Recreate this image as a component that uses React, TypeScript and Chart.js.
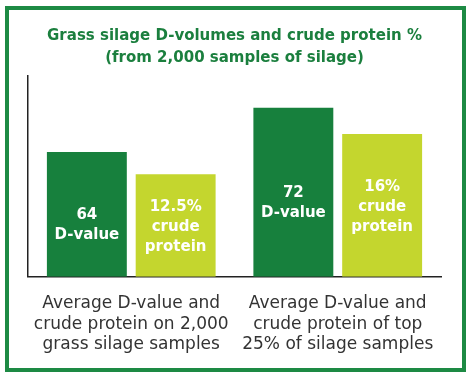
import React, { useEffect, useRef } from "react";
import { Chart, registerables } from "chart.js";

Chart.register(...registerables);

const categories: string[][] = [
  ["Average D-value and", "crude protein on 2,000", "grass silage samples"],
  ["Average D-value and", "crude protein of top", "25% of silage samples"],
];
const dValueBars = [62, 84];
const proteinBars = [51, 71];
const dValueLabels: string[][] = [
  ["64", "D-value"],
  ["72", "D-value"],
];
const proteinLabels: string[][] = [
  ["12.5%", "crude", "protein"],
  ["16%", "crude", "protein"],
];
const titleLines = [
  "Grass silage D-volumes and crude protein %",
  "(from 2,000 samples of silage)",
];

const DARK = "#17803d";
const LIME = "#c4d62e";
const BORDER = "#1d8a44";

const barTextPlugin = {
  id: "barText",
  afterDatasetsDraw(chart: any) {
    const ctx = chart.ctx;
    const sets = [dValueLabels, proteinLabels];
    const offsets = [11, 2];
    ctx.save();
    ctx.fillStyle = "#ffffff";
    ctx.font = "bold 15px 'DejaVu Sans'";
    ctx.textAlign = "center";
    ctx.textBaseline = "middle";
    sets.forEach((labels, di) => {
      const meta = chart.getDatasetMeta(di);
      meta.data.forEach((bar: any, i: number) => {
        const lines = labels[i];
        const lh = 20;
        const cy = (bar.y + bar.base) / 2 + offsets[di];
        const start = cy - ((lines.length - 1) * lh) / 2;
        lines.forEach((t, k) => ctx.fillText(t, bar.x, start + k * lh));
      });
    });
    ctx.restore();
  },
};

const frame = {
  id: "frame",
  beforeDraw(chart: any) {
    const ctx = chart.ctx;
    ctx.save();
    ctx.fillStyle = "#ffffff";
    ctx.fillRect(0, 0, chart.width, chart.height);
    ctx.strokeStyle = BORDER;
    ctx.lineWidth = 4;
    ctx.strokeRect(7, 8, chart.width - 17, chart.height - 15);
    ctx.restore();
  },
};

export default function App() {
  const ref = useRef<HTMLCanvasElement>(null);
  useEffect(() => {
    document.body.style.margin = "0";
    const chart = new Chart(ref.current!, {
      type: "bar",
      data: {
        labels: categories,
        datasets: [
          { data: dValueBars, backgroundColor: DARK, categoryPercentage: 0.86, barPercentage: 0.9 },
          { data: proteinBars, backgroundColor: LIME, categoryPercentage: 0.86, barPercentage: 0.9 },
        ],
      },
      options: {
        animation: false,
        responsive: false,
        events: [],
        layout: { padding: { left: 28, right: 33, top: 0, bottom: 5 } },
        plugins: {
          legend: { display: false },
          tooltip: { enabled: false },
          title: {
            display: true,
            text: titleLines,
            color: "#1b7f3e",
            font: { family: "'DejaVu Sans'", weight: "bold", size: 15, lineHeight: 1.45 },
            padding: { top: 25, bottom: 7 },
          },
        },
        scales: {
          x: {
            grid: { display: false, drawTicks: false },
            border: { display: true, color: "#222", width: 1.5 },
            ticks: {
              color: "#333",
              font: { family: "'DejaVu Sans'", size: 17, lineHeight: 1.2 },
              padding: 17,
              maxRotation: 0,
              autoSkip: false,
            },
          },
          y: {
            min: 0,
            max: 100,
            grid: { display: false, drawTicks: false },
            border: { display: true, color: "#222", width: 1.5 },
            ticks: { display: false },
          },
        },
      },
      plugins: [frame, barTextPlugin],
    });
    return () => chart.destroy();
  }, []);
  return (
    <div style={{ position: "absolute", left: 0, top: 0, width: 474, height: 377 }}>
      <canvas ref={ref} width={474} height={377} style={{ width: 474, height: 377 }} />
    </div>
  );
}
